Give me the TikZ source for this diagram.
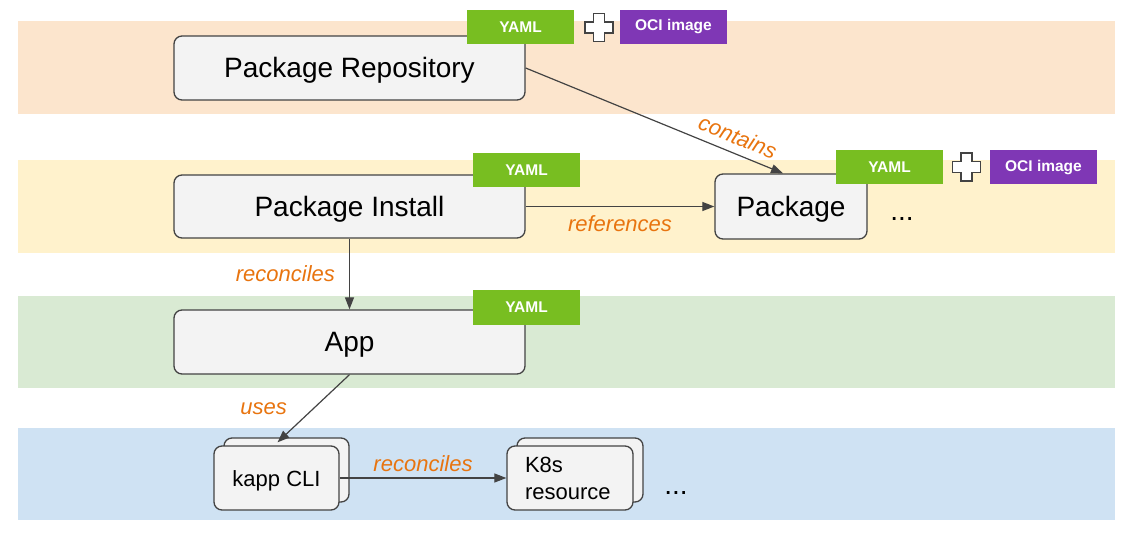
\documentclass[tikz,border=0pt]{standalone}
\usepackage{fontspec}
\setmainfont{Liberation Sans}
\usetikzlibrary{arrows.meta}
\definecolor{bandorange}{HTML}{FCE5CD}
\definecolor{bandyellow}{HTML}{FFF2CC}
\definecolor{bandgreen}{HTML}{D9EAD3}
\definecolor{bandblue}{HTML}{CFE2F3}
\definecolor{boxfill}{HTML}{F3F3F3}
\definecolor{boxline}{HTML}{434343}
\definecolor{yamlgreen}{HTML}{78BE21}
\definecolor{ocipurple}{HTML}{7F37B5}
\definecolor{labelorange}{HTML}{E8740F}

\begin{document}
\begin{tikzpicture}[x=1pt, y=-1pt,
every node/.style = {inner sep=0pt},
box/.style = {draw=boxline, line width=1.3pt, rounded corners=8pt,
	fill=boxfill, font=\fontsize{28}{32}\selectfont, minimum height=64pt,
	text height=20pt, text depth=0pt},
small/.style = {box, font=\fontsize{22}{27}\selectfont, minimum width=125pt,
	text height=16pt},
tag/.style = {minimum width=107pt, minimum height=34pt, text=white,
	font=\fontsize{15.5}{18}\selectfont\bfseries},
yaml/.style = {tag, fill=yamlgreen},
oci/.style = {tag, fill=ocipurple},
plusline/.style = {draw=boxline, fill=white, line width=1.2pt},
link/.style = {draw=boxline, line width=1.2pt, -{Triangle[length=12pt,width=9pt]}},
lbl/.style = {text=labelorange, font=\fontsize{22}{26}\selectfont\itshape}]

\useasboundingbox (0,0) rectangle (1135,537);

\fill[bandorange] (18,21) rectangle (1115,114);
\fill[bandyellow] (18,160) rectangle (1115,253);
\fill[bandgreen] (18,296) rectangle (1115,388);
\fill[bandblue] (18,428) rectangle (1115,520);

\node[box, minimum width=351pt] (repo) at (349.5,68) {Package Repository};
\node[box, minimum width=351pt, minimum height=63pt] (install) at (349.5,206.5) {Package Install};
\node[box, minimum width=351pt] (app) at (349.5,342) {App};
\node[box, minimum width=152pt, minimum height=65pt] (pkg) at (791,206.5) {Package};
\node[font=\fontsize{28}{32}\selectfont] (pkgmore) at (902,219) {...};

\node[small] (kappback) at (286.5,470) {};
\node[small] (kapp) at (276.5,478) {kapp CLI};
\node[small, minimum width=126pt] (k8sback) at (580,470) {};
\node[small, minimum width=126pt, text height={}, text depth={}, text width=90pt, align=left] (k8s) at (570,478) {K8s\\resource};
\node[font=\fontsize{28}{32}\selectfont] (k8smore) at (676,493) {...};

\draw[link] (repo.east) -- node[lbl, sloped, above=8pt, pos=0.8] {contains} ([xshift=-8pt]pkg.north);
\draw[link] (install.east) -- node[lbl, below=8pt] {references} (pkg.west);
\draw[link] (install.south) -- node[lbl, left=14pt] {reconciles} (app.north);
\draw[link] (app.south) -- node[lbl, left=26pt] {uses} ([xshift=-9pt,yshift=-5pt]kappback.north);
\draw[link] (kapp.east) -- node[lbl, above=6pt] {reconciles} (k8s.west);

\node[yaml] (repoyaml) at (520.5,27) {YAML};
\node[oci] (repooci) at (673.5,27) {OCI image};
\node[yaml] (installyaml) at (526.5,170) {YAML};
\node[yaml] (appyaml) at (526.5,307.5) {YAML};
\node[yaml] (pkgyaml) at (889.5,167.5) {YAML};
\node[oci] (pkgoci) at (1043.5,167.5) {OCI image};

\foreach \px/\py in {599/27.5, 966.5/167}
	\draw[plusline, shift={(\px,\py)}] (-5.5,-14) -- (5.5,-14) -- (5.5,-5.5) -- (14,-5.5)
		-- (14,5.5) -- (5.5,5.5) -- (5.5,14) -- (-5.5,14) -- (-5.5,5.5) -- (-14,5.5)
		-- (-14,-5.5) -- (-5.5,-5.5) -- cycle;
\end{tikzpicture}
\end{document}
